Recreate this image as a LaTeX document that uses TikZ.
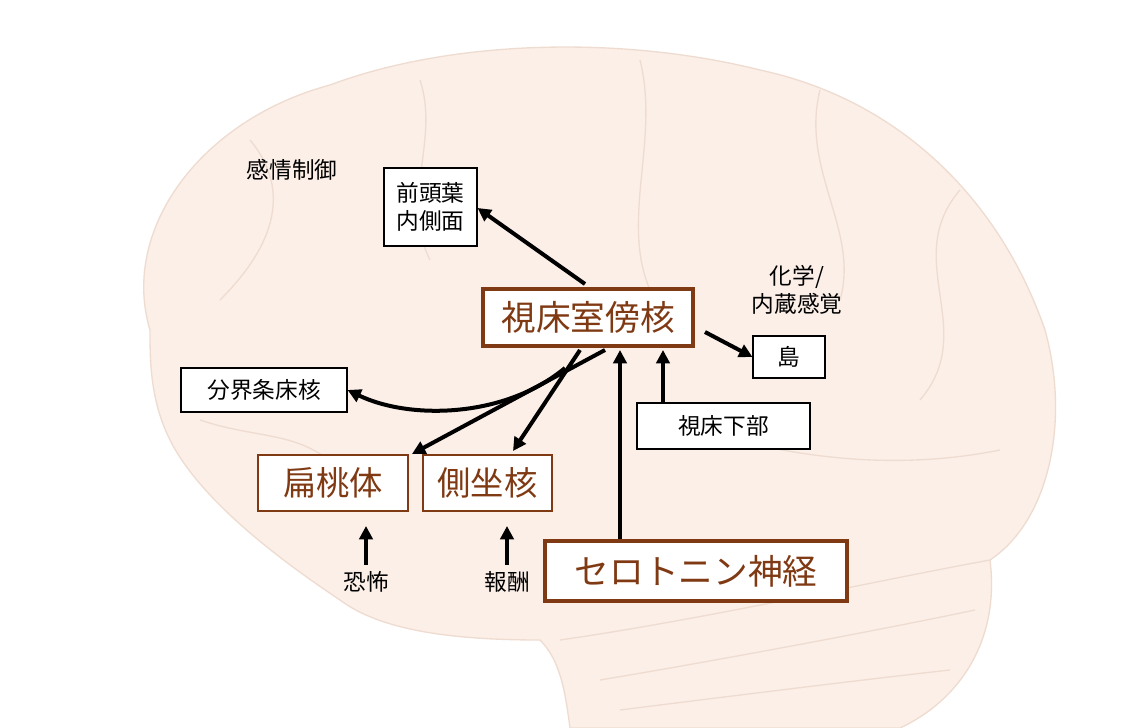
\documentclass[tikz,border=0pt]{standalone}
\usepackage{fontspec}
\setmainfont{Noto Sans CJK JP}
\usetikzlibrary{arrows.meta}
\definecolor{brn}{HTML}{7F3A14}
\definecolor{brainfill}{HTML}{FBEFE8}
\definecolor{brainline}{HTML}{EFDCD0}
\tikzset{x=0.75pt,y=-0.75pt,
 plain/.style={draw=black,line width=0.8pt,fill=white,align=center,font=\fontsize{17}{21}\selectfont,inner sep=0pt},
 key/.style={draw=brn,line width=3pt,fill=white,text=brn,font=\fontsize{26}{30}\selectfont,inner sep=0pt},
 keythin/.style={draw=brn,line width=0.8pt,fill=white,text=brn,font=\fontsize{25}{29}\selectfont,inner sep=0pt},
 lab/.style={align=center,font=\fontsize{17}{21}\selectfont,inner sep=0pt},
 arr/.style={-{Triangle[length=10pt,width=10pt]},line width=3pt}}
\begin{document}
\begin{tikzpicture}
\useasboundingbox (0,0) rectangle (1147,728);
\fill[white] (0,0) rectangle (1147,728);
% brain
\fill[brainfill,draw=brainline,line width=1pt]
 (150,330) .. controls (120,230) and (200,120) .. (330,85)
 .. controls (450,40) and (620,35) .. (760,70)
 .. controls (900,100) and (1000,200) .. (1045,330)
 .. controls (1070,420) and (1050,520) .. (990,560)
 .. controls (1000,640) and (960,700) .. (900,728)
 -- (570,728) .. controls (565,690) and (560,660) .. (540,640)
 .. controls (450,640) and (380,630) .. (340,600)
 .. controls (280,560) and (200,500) .. (170,440)
 .. controls (150,400) and (150,360) .. (150,330) -- cycle;
\draw[brainline,line width=1pt] (560,640) .. controls (700,620) and (880,580) .. (990,560);
\draw[brainline,line width=1pt] (600,680) .. controls (720,660) and (880,630) .. (975,610);
\draw[brainline,line width=1pt] (620,710) .. controls (740,695) and (860,680) .. (950,670);
\draw[brainline,line width=1pt] (250,140) .. controls (300,200) and (260,260) .. (220,300);
\draw[brainline,line width=1pt] (420,80) .. controls (440,140) and (400,200) .. (430,260);
\draw[brainline,line width=1pt] (640,60) .. controls (660,140) and (620,220) .. (650,290);
\draw[brainline,line width=1pt] (820,90) .. controls (800,170) and (860,230) .. (840,300);
\draw[brainline,line width=1pt] (960,190) .. controls (900,260) and (980,330) .. (920,400);
\draw[brainline,line width=1pt] (700,430) .. controls (800,460) and (900,470) .. (1000,450);
\draw[brainline,line width=1pt] (200,420) .. controls (260,440) and (300,430) .. (340,470);
% nodes
\node[plain,minimum width=93*0.75pt,minimum height=78*0.75pt] (pfc) at (430.5,207) {前頭葉\\内側面};
\node[key,minimum width=210*0.75pt,minimum height=57*0.75pt] (pvt) at (588,317.5) {視床室傍核};
\node[plain,minimum width=72*0.75pt,minimum height=42*0.75pt] (ins) at (789,357) {島};
\node[plain,minimum width=166*0.75pt,minimum height=44*0.75pt] (bnst) at (264,390) {分界条床核};
\node[plain,minimum width=173*0.75pt,minimum height=46*0.75pt] (hyp) at (723.5,426) {視床下部};
\node[keythin,minimum width=150*0.75pt,minimum height=56*0.75pt] (amy) at (333,483) {扁桃体};
\node[keythin,minimum width=129*0.75pt,minimum height=56*0.75pt] (nac) at (487.5,483) {側坐核};
\node[key,minimum width=302*0.75pt,minimum height=60*0.75pt] (ser) at (696,571) {セロトニン神経};
\node[lab] (emo) at (292,170) {感情制御};
\node[lab] (chem) at (797,290) {化学/\\内蔵感覚};
\node[lab] (fear) at (366,582) {恐怖};
\node[lab] (rew) at (507,582) {報酬};
\coordinate (fearT) at (366,565);
\coordinate (rewT) at (507,565);
% arrows
\draw[arr] (585,284) -- (pfc.east |- 0,208);
\draw[arr] (705,332) -- (ins.west);
\draw[arr] (hyp.north -| 663,0) -- (663,350);
\draw[arr] (ser.north -| 620,0) -- (620,350);
\draw[arr] (605,350) -- (412,454);
\draw[arr] (580,350) -- (513,451);
\draw[arr] (565,368) .. controls (505,418) and (410,420) .. (bnst.east);
\draw[arr] (fearT) -- (366,526);
\draw[arr] (rewT) -- (507,526);
\end{tikzpicture}
\end{document}
